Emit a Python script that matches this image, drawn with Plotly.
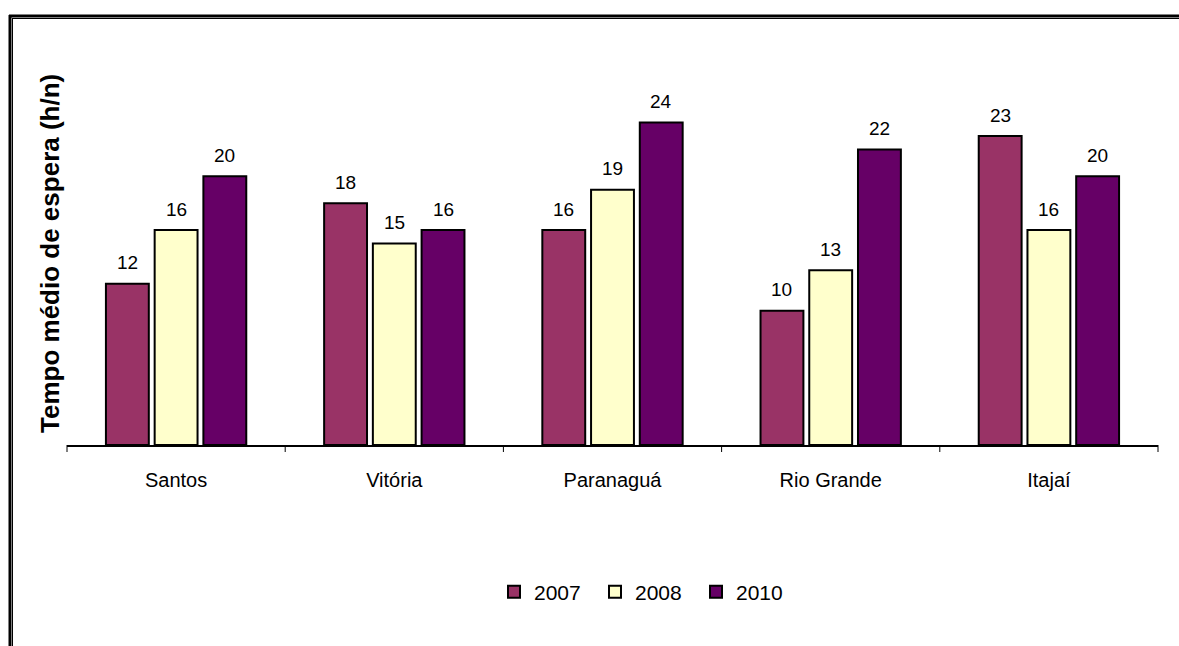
import plotly.graph_objects as go

ports = ["Santos", "Vitória", "Paranaguá", "Rio Grande", "Itajaí"]
years = ["2007", "2008", "2010"]
v2007 = [12, 18, 16, 10, 23]
v2008 = [16, 15, 19, 13, 16]
v2010 = [20, 16, 24, 22, 20]
series = [v2007, v2008, v2010]
colors = ["#993366", "#FFFFCC", "#660066"]
y_title = "Tempo médio de espera (h/n)"

W, H = 1179, 646
L, R, T, B = 67, 21, 42, 201
pw, ph = W - L - R, H - T - B
BARGAP, GROUPGAP = 0.33, 0.12
FONT = "Liberation Sans, Arial"


def px_x(p):
    return (p - L) / pw


def px_y(p):
    return (H - B - p) / ph


fig = go.Figure()
for name, vals, col in zip(years, series, colors):
    fig.add_trace(go.Bar(
        name=name, x=ports, y=vals,
        marker=dict(color=col, line=dict(color="black", width=2)),
    ))

# value labels above each bar, shifted to the bar's slot within its group
slot_px = pw / len(ports) * (1 - BARGAP) / len(years)
annotations = []
for i, vals in enumerate(series):
    for port, v in zip(ports, vals):
        annotations.append(dict(
            x=port, y=v, xref="x", yref="y", text=str(v), showarrow=False,
            xshift=(i - 1) * slot_px, yshift=21, yanchor="middle",
            font=dict(family=FONT, size=19, color="black"),
        ))

annotations.append(dict(
    text="<b>" + y_title + "</b>", textangle=-90, xref="paper", yref="paper",
    x=px_x(50), y=px_y(254), showarrow=False, font=dict(family=FONT, size=26),
    xanchor="center", yanchor="middle"))

# outer frame lines (top double line and left border)
shapes = [
    dict(type="line", xref="paper", yref="paper", x0=px_x(9), x1=px_x(1180), y0=px_y(16), y1=px_y(16),
         line=dict(color="black", width=3)),
    dict(type="line", xref="paper", yref="paper", x0=px_x(12), x1=px_x(1180), y0=px_y(18.5), y1=px_y(18.5),
         line=dict(color="black", width=1)),
    dict(type="line", xref="paper", yref="paper", x0=px_x(10), x1=px_x(10), y0=px_y(15), y1=px_y(647),
         line=dict(color="black", width=3)),
    dict(type="line", xref="paper", yref="paper", x0=px_x(12.5), x1=px_x(12.5), y0=px_y(18), y1=px_y(647),
         line=dict(color="black", width=1)),
]
# category boundary ticks along the x axis
for i in range(len(ports) + 1):
    xp = i / len(ports)
    shapes.append(dict(type="line", xref="paper", yref="paper", x0=xp, x1=xp,
                       y0=px_y(445), y1=px_y(452), line=dict(color="black", width=1)))

fig.update_layout(
    width=W, height=H,
    margin=dict(l=L, r=R, t=T, b=B),
    paper_bgcolor="white", plot_bgcolor="white",
    barmode="group", bargap=BARGAP, bargroupgap=GROUPGAP,
    font=dict(family=FONT, size=20, color="black"),
    showlegend=True,
    legend=dict(orientation="h", x=px_x(494), xanchor="left", y=px_y(592), yanchor="middle",
                font=dict(size=21), itemwidth=30, entrywidth=56, traceorder="normal"),
    xaxis=dict(showline=True, linecolor="black", linewidth=2, ticks="", showgrid=False,
               tickfont=dict(size=20), ticklabelstandoff=16),
    yaxis=dict(range=[0, 30], visible=False),
    shapes=shapes,
    annotations=annotations,
)

fig.write_html("out.html")
